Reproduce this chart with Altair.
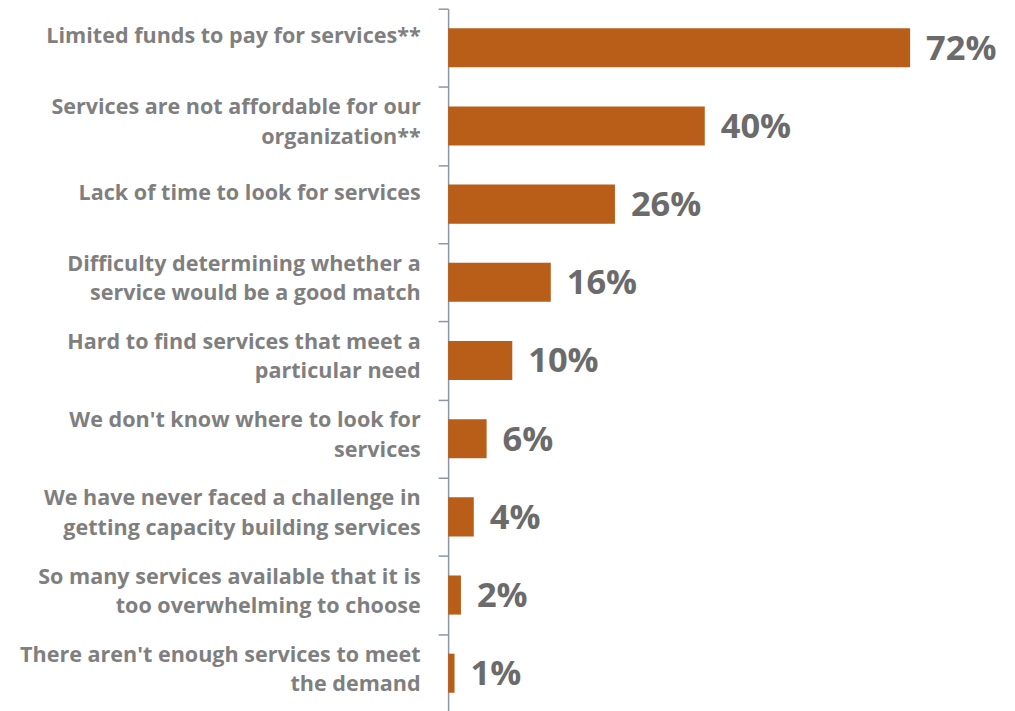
import altair as alt
import pandas as pd

categories = [
    "Limited funds to pay for services**",
    "Services are not affordable for our|organization**",
    "Lack of time to look for services",
    "Difficulty determining whether a|service would be a good match",
    "Hard to find services that meet a|particular need",
    "We don't know where to look for|services",
    "We have never faced a challenge in|getting capacity building services",
    "So many services available that it is|too overwhelming to choose",
    "There aren't enough services to meet|the demand",
]
values = [72, 40, 26, 16, 10, 6, 4, 2, 1]

df = pd.DataFrame({"category": categories, "value": values})

STEP = 705 / 9

y = alt.Y(
    "category:N",
    sort=categories,
    title=None,
    scale=alt.Scale(paddingInner=0.5, paddingOuter=0.25),
    axis=alt.Axis(
        domainColor="#8c96a5",
        domainWidth=1.5,
        tickColor="#8c96a5",
        tickWidth=1.5,
        tickSize=10,
        tickOffset=-STEP / 2,
        labelPadding=18,
        labelOffset={
            "condition": {
                "test": "indexof(datum.value, '|') >= 0",
                "value": STEP / 2 - 18,
            },
            "value": STEP / 2 - 11,
        },
        labelFont="Open Sans",
        labelFontSize=21.6,
        labelFontWeight="bold",
        labelColor="#7f7f7f",
        labelLimit=0,
        labelLineHeight=29.5,
        labelExpr="split(datum.label, '|')",
    ),
)
x = alt.X("value:Q", title=None, axis=None, scale=alt.Scale(domain=[0, 87.1]))

bars = alt.Chart(df).mark_bar(color="#B95E18").encode(x=x, y=y)
text = (
    alt.Chart(df)
    .transform_calculate(lbl="datum.value + '%'")
    .mark_text(
        align="left",
        baseline="middle",
        dx=16,
        dy=2,
        font="Open Sans",
        fontSize=34.5,
        fontWeight="bold",
        color="#6b6b6b",
    )
    .encode(x=x, y=alt.Y("category:N", sort=categories), text="lbl:N")
)

chart = (
    (bars + text)
    .properties(
        width=560,
        height=705,
        autosize=alt.AutoSizeParams(type="none"),
        padding={"left": 441, "top": 0, "right": 0, "bottom": 0},
    )
    .configure_view(stroke=None)
)

chart.save("out.html", embed_options={"renderer": "svg", "actions": False})
